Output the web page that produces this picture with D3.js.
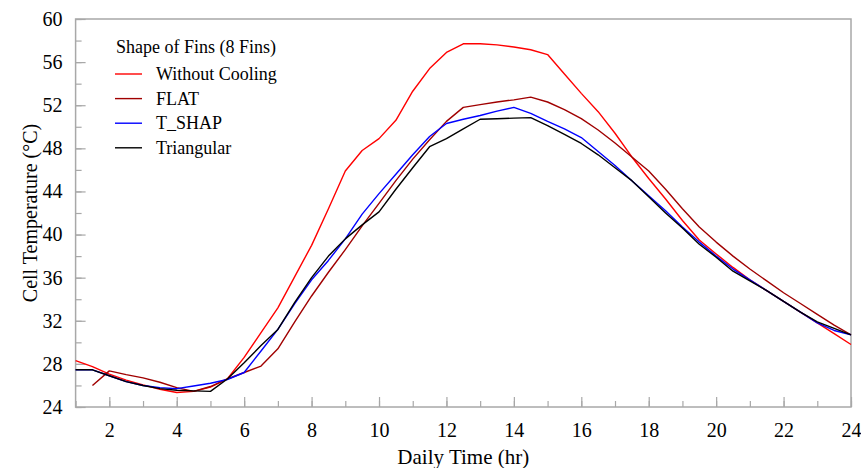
<!DOCTYPE html>
<html>
<head>
<meta charset="utf-8">
<script src="https://cdn.jsdelivr.net/npm/d3@7"></script>
<style>
  body { margin: 0; background: #fff; }
  svg { font-family: 'Liberation Serif', 'Times New Roman', serif; }
</style>
</head>
<body>
<svg width="861" height="468"></svg>
<script>
// daily time in hours (half hour steps)
let hours = [1, 1.5, 2, 2.5, 3, 3.5, 4, 4.5, 5, 5.5, 6, 6.5, 7, 7.5, 8, 8.5, 9, 9.5, 10, 10.5,
             11, 11.5, 12, 12.5, 13, 13.5, 14, 14.5, 15, 15.5, 16, 16.5, 17, 17.5, 18, 18.5,
             19, 19.5, 20, 20.5, 21, 21.5, 22, 22.5, 23, 23.5, 24];

// cell temperature per series
let withoutCooling = [28.3, 27.75, 27.05, 26.5, 26.05, 25.65, 25.35, 25.45, 25.85, 26.6, 28.6, 30.9,
                      33.2, 36.1, 39.0, 42.4, 45.9, 47.8, 48.9, 50.6, 53.3, 55.4, 56.9, 57.7, 57.7,
                      57.6, 57.4, 57.15, 56.7, 54.9, 53.1, 51.4, 49.4, 47.2, 45.2, 43.3, 41.3, 39.5,
                      38.2, 36.95, 35.8, 34.8, 33.8, 32.8, 31.8, 30.8, 29.8];
let flat = [null, 26.0, 27.35, 27.0, 26.7, 26.3, 25.8, 25.45, 25.9, 26.6, 27.2, 27.8, 29.4, 31.9,
            34.3, 36.5, 38.6, 40.8, 42.9, 45.0, 47.0, 48.8, 50.5, 51.8, 52.05, 52.3, 52.5, 52.75,
            52.3, 51.6, 50.75, 49.7, 48.5, 47.2, 45.9, 44.2, 42.4, 40.7, 39.3, 38.0, 36.8, 35.7,
            34.6, 33.6, 32.6, 31.6, 30.7];
let tShap = [27.45, 27.45, 26.9, 26.35, 26.0, 25.8, 25.7, 25.95, 26.2, 26.55, 27.2, 29.2, 31.2,
             33.6, 35.8, 37.6, 39.6, 41.9, 43.8, 45.6, 47.4, 49.1, 50.3, 50.7, 51.05, 51.45, 51.8,
             51.25, 50.5, 49.8, 49.0, 47.7, 46.4, 45.0, 43.6, 42.2, 40.7, 39.3, 38.0, 36.8, 35.8,
             34.8, 33.8, 32.8, 31.8, 31.1, 30.7];
let triangular = [27.45, 27.45, 26.9, 26.35, 26.0, 25.7, 25.55, 25.5, 25.45, 26.6, 28.1, 29.7, 31.2,
                  33.7, 36.0, 38.0, 39.6, 40.9, 42.1, 44.2, 46.2, 48.15, 48.9, 49.8, 50.7, 50.75,
                  50.8, 50.85, 50.1, 49.3, 48.45, 47.4, 46.2, 45.0, 43.5, 42.0, 40.6, 39.1, 37.9,
                  36.6, 35.7, 34.8, 33.8, 32.8, 31.9, 31.3, 30.7];

let seriesNames = ['Without Cooling', 'FLAT', 'T_SHAP', 'Triangular'];
let seriesValues = [withoutCooling, flat, tShap, triangular];
let colors = ['#ff0000', '#a00000', '#0000ff', '#000000'];

let xTicks = [2, 4, 6, 8, 10, 12, 14, 16, 18, 20, 22, 24];
let yTicks = [24, 28, 32, 36, 40, 44, 48, 52, 56, 60];

//graph layout
let margin = { top: 19, right: 10, bottom: 61, left: 75.6 };
let width = 861 - margin.left - margin.right;
let height = 468 - margin.top - margin.bottom;

let svg = d3.select('svg')
            .append('g')
            .attr('transform', 'translate(' + margin.left + ',' + margin.top + ')');

let xScale = d3.scaleLinear().domain([1, 24]).range([0, width]);
let yScale = d3.scaleLinear().domain([24, 60]).range([height, 0]);

let axisColor = '#a8a8a8';

// minor ticks
svg.append('g')
   .attr('transform', 'translate(0,' + height + ')')
   .call(d3.axisBottom(xScale).tickValues(d3.range(1, 25)).tickSize(-6).tickFormat(''))
   .call(g => g.select('.domain').remove());
svg.append('g')
   .call(d3.axisLeft(yScale).tickValues(d3.range(24, 61, 2)).tickSize(-6).tickFormat(''))
   .call(g => g.select('.domain').remove());

// major ticks + labels
let xAxis = svg.append('g')
   .attr('transform', 'translate(0,' + height + ')')
   .call(d3.axisBottom(xScale).tickValues(xTicks).tickSizeInner(-10).tickSizeOuter(0).tickPadding(16))
   .call(g => g.select('.domain').remove());
let yAxis = svg.append('g')
   .call(d3.axisLeft(yScale).tickValues(yTicks).tickSizeInner(-10).tickSizeOuter(0).tickPadding(13))
   .call(g => g.select('.domain').remove());

svg.selectAll('.tick line').attr('stroke', axisColor).attr('stroke-width', 1.2);
svg.selectAll('.tick text')
   .attr('fill', '#000')
   .style('font-size', '20px')
   .style('font-family', "'Liberation Serif', serif");

// frame
svg.append('rect')
   .attr('x', 0).attr('y', 0)
   .attr('width', width).attr('height', height)
   .attr('fill', 'none')
   .attr('stroke', axisColor)
   .attr('stroke-width', 1.5);

// lines
let line = d3.line()
             .defined(d => d[1] != null)
             .x(d => xScale(d[0]))
             .y(d => yScale(d[1]));

seriesValues.forEach((vals, i) => {
    svg.append('path')
       .datum(hours.map((h, j) => [h, vals[j]]))
       .attr('fill', 'none')
       .attr('stroke', colors[i])
       .attr('stroke-width', 1.4)
       .attr('stroke-linejoin', 'round')
       .attr('d', line);
});

//axis labels
svg.append('text')
   .attr('x', width / 2)
   .attr('y', height + 57)
   .attr('text-anchor', 'middle')
   .style('font-size', '21px')
   .text('Daily Time (hr)');

svg.append('text')
   .attr('transform', 'rotate(-90)')
   .attr('x', -height / 2)
   .attr('y', -39)
   .attr('text-anchor', 'middle')
   .style('font-size', '20px')
   .text('Cell Temperature (°C)');

//legend
let legend = svg.append('g')
                .attr('transform', 'translate(' + (116 - margin.left) + ',' + (0) + ')');

legend.append('text')
      .attr('x', 0)
      .attr('y', 53 - margin.top)
      .style('font-size', '18px')
      .text('Shape of Fins (8 Fins)');

seriesNames.forEach((name, i) => {
    let cy = 74 + i * 24.6 - margin.top;
    legend.append('line')
          .attr('x1', -1).attr('x2', 26)
          .attr('y1', cy).attr('y2', cy)
          .attr('stroke', colors[i])
          .attr('stroke-width', 1.4);
    legend.append('text')
          .attr('x', 40)
          .attr('y', cy + 6)
          .style('font-size', '18px')
          .text(name);
});
</script>
</body>
</html>
